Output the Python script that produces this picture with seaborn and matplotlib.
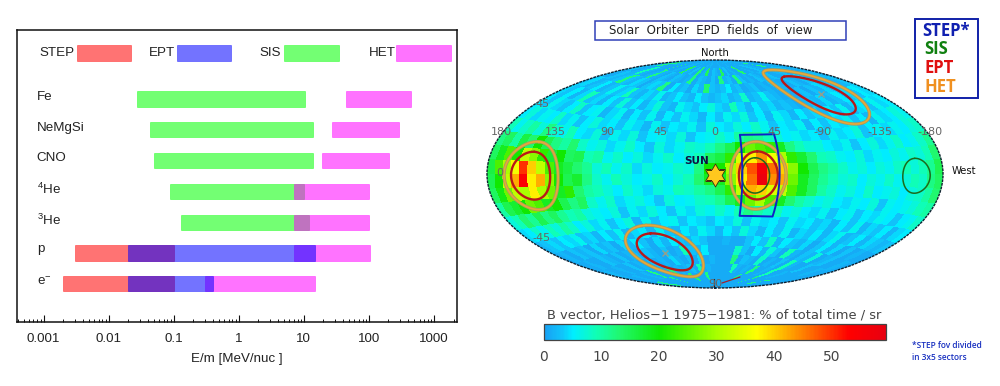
import numpy as np
import pandas as pd
import matplotlib
matplotlib.use("Agg")
import matplotlib.pyplot as plt
from matplotlib.colors import LinearSegmentedColormap
from matplotlib.lines import Line2D
from matplotlib.path import Path
from matplotlib.patches import Rectangle
from matplotlib.ticker import LogLocator, NullFormatter, FixedLocator, FixedFormatter
import seaborn as sns

# ---------- energy ranges (MeV/nuc) ----------
species = ["Fe", "NeMgSi", "CNO", "$^4$He", "$^3$He", "p", "e$^{-}$"]
sis_species = ["Fe", "NeMgSi", "CNO", "$^4$He", "$^3$He"]
sis_low = [0.0272, 0.043, 0.05, 0.0893, 0.129]
sis_high = [10.4, 13.9, 13.9, 10.1, 12.0]
het_species = species
het_low = [44.6, 27.2, 19.0, 7.0, 7.0, 7.0, 0.30]
het_high = [444, 294, 206, 102, 102, 105, 14.9]
step_species = ["p", "e$^{-}$"]
step_low = [0.00303, 0.002]
step_high = [0.1, 0.1]
ept_species = ["p", "e$^{-}$"]
ept_low = [0.02, 0.02]
ept_high = [14.9, 0.4]
energy_ticks = [0.001, 0.01, 0.1, 1, 10, 100, 1000]
energy_tick_labels = ["0.001", "0.01", "0.1", "1", "10", "100", "1000"]

# ---------- sky map: % of total time / sr, rows from north to south, columns lon 176..-176 ----------
a86 = [1,1,1,1,1,2,1,1,1,1,2,1, 1,1,2,1,1,1,1,2,1,2,1,1, 1,1,1,2,1,1,1,1,2,1,1,1, 1,1,2,1,1,1,1,1,2,1,1,1]
a79 = [2,1,12,1,2,1,1,12,1,1,2,1, 1,14,2,1,3,1,13,1,2,14,1,3, 2,1,14,1,3,1,2,1,1,13,1,1, 2,1,1,3,1,2,1,1,12,1,1,2]
a71 = [2,3,1,2,9,2,1,2,12,2,1,3, 2,1,3,2,1,2,12,1,3,2,1,3, 1,12,2,3,1,12,3,1,2,1,3,2, 1,2,3,1,1,2,3,1,2,3,1,2]
a64 = [3,1,3,2,3,12,3,2,4,3,1,3, 4,3,12,1,5,2,3,1,4,2,13,3, 2,3,5,2,3,1,2,3,1,2,1,3, 2,1,1,3,2,1,3,4,2,1,3,2]
a56 = [3,4,2,3,5,2,3,6,3,4,9,3, 2,4,3,6,2,3,5,3,2,5,3,2, 3,4,2,3,8,2,3,6,3,2,1,2, 1,2,3,1,3,2,4,2,3,5,2,3]
a49 = [4,3,5,2,4,9,3,4,2,5,3,7, 3,5,2,4,7,3,2,6,4,3,5,7, 4,3,9,4,2,5,3,4,2,3,2,1, 2,3,2,4,2,3,5,3,4,3,5,4]
a41 = [5,3,6,4,3,5,8,3,5,6,2,4, 6,2,5,3,6,2,5,3,6,4,2,5, 3,6,4,7,3,5,2,6,4,2,5,3, 4,2,5,3,6,2,4,5,3,6,4,5]
a34 = [5,7,4,6,5,8,4,6,3,5,7,4, 5,3,6,4,2,6,3,5,4,6,3,7, 5,4,7,5,8,6,3,5,4,6,2,5, 3,5,4,6,3,5,2,6,4,5,7,6]
a26 = [9,6,8,10,7,12,8,6,9,5,4,7, 3,6,4,7,3,5,6,4,7,3,5,6, 8,6,10,12,11,9,7,5,6,4,5,3, 6,4,5,7,3,5,6,4,6,5,7,8]
a19 = [12,14,10,16,13,20,15,12,10,13,8,6, 7,4,6,8,5,3,7,4,6,8,7,9, 12,15,20,26,24,22,18,12,9,7,7,5, 4,6,3,5,7,4,6,8,5,6,8,11]
a11 = [14,18,24,20,32,28,22,17,20,14,15,9, 10,6,8,5,7,4,6,8,5,7,9,14, 16,22,34,38,44,36,30,22,17,13,9,8, 6,5,7,4,6,5,7,6,8,7,9,13]
a04 = [16,24,30,36,50,40,32,24,18,16,13,11, 7,9,6,8,4,7,5,6,8,7,12,20, 20,30,40,48,56,46,40,28,20,15,12,10, 8,6,7,5,7,6,8,9,7,9,11,15]
b04 = [15,20,32,42,54,38,42,28,20,15,17,12, 8,6,9,7,5,6,8,5,7,9,13,18, 18,28,38,46,58,44,42,26,18,14,11,9, 7,8,5,7,6,8,6,7,9,8,12,14]
b11 = [14,19,26,32,30,38,30,26,18,22,13,10, 9,7,5,8,6,4,7,6,9,8,10,12, 15,22,32,42,40,34,32,24,18,14,10,8, 6,7,5,8,5,6,7,5,7,8,10,13]
b19 = [10,15,17,20,26,24,18,20,15,12,14,8, 6,8,4,6,7,5,3,7,5,6,8,9, 11,15,18,26,30,24,18,13,10,8,6,7, 5,4,6,5,7,3,6,5,6,7,9,10]
b26 = [7,9,13,11,15,12,14,11,9,10,7,6, 5,7,3,6,4,7,5,3,6,4,7,6, 8,6,9,12,10,8,9,6,7,5,4,6, 3,5,6,3,5,4,6,5,3,5,6,8]
b34 = [4,5,8,6,9,7,10,8,5,7,4,6, 3,5,7,2,6,3,5,6,3,5,4,3, 5,4,7,3,6,4,5,3,6,4,5,3, 4,2,5,3,6,2,4,3,5,2,4,5]
b41 = [2,3,4,3,5,4,6,3,4,2,5,3, 6,2,4,5,2,6,3,2,5,3,6,4, 2,5,3,7,4,2,5,3,6,2,4,3, 5,2,4,6,2,3,5,2,4,3,2,3]
b49 = [1,2,1,3,2,3,1,4,2,3,1,4, 2,5,3,1,4,2,5,3,2,4,3,1, 1,2,1,1,3,5,3,8,2,5,3,2, 4,1,3,5,2,4,1,3,1,2,1,1]
b56 = [1,1,2,1,1,3,2,1,3,1,2,3, 1,3,2,1,3,1,2,9,3,2,5,1, 1,1,1,8,3,1,5,2,7,3,1,9, 2,1,3,2,7,1,2,3,1,1,2,1]
b64 = [1,2,1,1,2,1,1,3,1,2,1,1, 3,1,2,1,4,2,1,3,1,4,1,2, 1,1,1,12,1,3,2,1,8,1,2,1, 3,1,9,2,1,1,3,1,1,2,1,1]
b71 = [1,1,1,2,1,1,2,1,12,1,1,2, 1,12,1,2,1,2,3,1,9,1,2,1, 1,1,1,1,9,2,1,2,1,12,1,1, 2,1,9,1,1,2,1,1,1,1,1,1]
b79 = [1,1,12,1,1,1,1,1,1,12,1,1, 1,1,1,1,13,1,1,1,1,12,1,1, 1,1,1,1,1,1,1,1,12,1,1,1, 1,1,12,1,1,1,1,12,1,1,1,1]
b86 = [1,1,1,1,1,1,1,1,1,1,1,1, 1,1,1,1,1,1,1,1,1,1,1,1, 1,1,1,1,1,1,1,1,1,1,1,1, 1,1,1,1,1,1,1,1,1,1,1,1]
sky_rows = [a86, a79, a71, a64, a56, a49, a41, a34, a26, a19, a11, a04,
            b04, b11, b19, b26, b34, b41, b49, b56, b64, b71, b79, b86]

# field-of-view ellipses: (lon, lat, lon radius, lat radius) in degrees
het_fov = [(-31, -1, 20, 24), (140, -1, 23.5, 20), (-122.5, 53, 21.5, 21.5), (58.5, -57, 21, 21)]
ept_fov = [(-31, -1, 14, 17), (140, -1, 17, 14), (-122.5, 53, 15, 15), (58.5, -57, 15, 15)]
sis_fov = [(-29, -1, 10, 12.5), (-155, -1, 12.5, 9.7)]
step_lon = [-19.5, -46.5, -46, -19.5, -19.5]
step_lat = [28, 28, -30, -30, 28]
lon_labels = ["180", "135", "90", "45", "0", "45", "-90", "-135", "-180"]
lon_label_x = [501, 555, 607, 660, 715, 775, 823, 880, 930]
cbar_ticks = [0, 10, 20, 30, 40, 50]

W, H = 1000, 386
sns.set_theme(style="white")
plt.rcParams["font.family"] = ["Liberation Sans", "DejaVu Sans"]
plt.rcParams["mathtext.default"] = "regular"

fig = plt.figure(figsize=(W / 100, H / 100), dpi=100, facecolor="white")

def rect(x0, y0, x1, y1):
    return [x0 / W, 1 - y1 / H, (x1 - x0) / W, (y1 - y0) / H]

def ftext(x, y, s, **kw):
    kw.setdefault("ha", "left")
    kw.setdefault("va", "center")
    return fig.text(x / W, 1 - y / H, s, **kw)

def fbox(x0, y0, x1, y1, **kw):
    fig.add_artist(Rectangle((x0 / W, 1 - y1 / H), (x1 - x0) / W, (y1 - y0) / H,
                             transform=fig.transFigure, **kw))

# ---------- left panel ----------
ax = fig.add_axes(rect(17, 30, 457, 322))
ax.set_xscale("log")
red, blue, green, mag = "#ff0000", "#0000ff", "#00ff00", "#ff00ff"
layers = [
    (sis_species, sis_low, sis_high, green),
    (het_species, het_low, het_high, mag),
    (step_species, step_low, step_high, red),
    (ept_species, ept_low, ept_high, blue),
]
for names, lows, highs, col in layers:
    df = pd.DataFrame({"species": names, "low": lows, "high": highs})
    df["span"] = df["high"] - df["low"]
    sns.barplot(data=df, y="species", x="span", order=species, color=col, saturation=1,
                alpha=0.55, errorbar=None, width=0.49, left=df["low"].values, ax=ax,
                edgecolor=col, linewidth=0.5)
ax.set_xlabel("")
ax.set_ylabel("")
ax.set_xlim(10 ** -3.408, 10 ** 3.354)
ax.set_ylim(7.24, -2.24)
ax.set_yticks([])
ax.xaxis.set_major_locator(FixedLocator(energy_ticks))
ax.xaxis.set_major_formatter(FixedFormatter(energy_tick_labels))
ax.xaxis.set_minor_locator(LogLocator(base=10, subs=range(2, 10), numticks=12))
ax.xaxis.set_minor_formatter(NullFormatter())
ax.tick_params(axis="x", which="major", direction="in", length=5, width=0.8, bottom=True,
               labelsize=9.6, pad=8, color="#111111", labelcolor="#222222")
ax.tick_params(axis="x", which="minor", direction="in", length=2.2, width=0.7, bottom=True,
               color="#111111")
for s in ax.spines.values():
    s.set_visible(True)
    s.set_color("#111111")
    s.set_linewidth(1.1)
label_offsets = {"p": -2, "e$^{-}$": 0}
for i, name in enumerate(species):
    ax.text(0.045, i - 0.07 + label_offsets.get(name, 0) / 30.8, name, transform=ax.get_yaxis_transform(),
            ha="left", va="center", fontsize=9.6, color="#222222")
ftext(237, 359, "E/m [MeV/nuc ]", ha="center", fontsize=9.6, color="#222222")

legend_items = [("STEP", 39, 76.5, red), ("EPT", 149, 176.5, blue),
                ("SIS", 259, 284, green), ("HET", 369, 396, mag)]
for lab, tx, px, col in legend_items:
    ftext(tx, 53, lab, fontsize=9.6, color="#222222")
    fbox(px, 45.5, px + 54.5, 60.5, facecolor=col, alpha=0.55, edgecolor=col, linewidth=0.5)

# ---------- sky map ----------
vmax = 59.4
cmap = LinearSegmentedColormap.from_list("sky", [
    (0 / vmax, "#18a0f4"), (3 / vmax, "#10c4fa"), (5 / vmax, "#00eeff"), (9 / vmax, "#10ffb4"),
    (13 / vmax, "#20f870"), (20 / vmax, "#10e800"), (30 / vmax, "#a8ff00"), (37 / vmax, "#ffff00"),
    (45 / vmax, "#ff8000"), (53 / vmax, "#ff0000"), (1.0, "#e80010")])

mp = fig.add_axes(rect(487, 60, 943, 288), projection="hammer")
sky = np.array(sky_rows, dtype=float)
rep = 3
fine = np.repeat(np.repeat(sky, rep, axis=0), rep, axis=1)
x_edges = np.radians(np.linspace(-180, 180, fine.shape[1] + 1))
y_edges = np.radians(np.linspace(90, -90, fine.shape[0] + 1))
mesh = mp.pcolormesh(x_edges, y_edges, fine, cmap=cmap, vmin=0, vmax=vmax, shading="flat",
                     rasterized=True, antialiased=False)
mp.set_longitude_grid(45)
mp.set_latitude_grid(45)
mp.set_longitude_grid_ends(90)
mp.grid(True, color="#103040", linestyle=":", linewidth=0.9)
mp.set_xticklabels([])
mp.set_yticklabels([])
mp.spines["geo"].set_edgecolor("#102030")
mp.spines["geo"].set_linewidth(1.0)
mp.spines["geo"].set_linestyle(":")

def ellipse(lon0, lat0, a, b):
    # a = radius towards east/west, b = radius towards north/south; t is measured from north
    t = np.linspace(0, 2 * np.pi, 181)
    rr = np.radians(a * b / np.sqrt((b * np.sin(t)) ** 2 + (a * np.cos(t)) ** 2))
    lo, la = np.radians(lon0), np.radians(lat0)
    lat = np.arcsin(np.sin(la) * np.cos(rr) + np.cos(la) * np.sin(rr) * np.cos(t))
    lon = lo + np.arctan2(np.sin(t) * np.sin(rr) * np.cos(la),
                          np.cos(rr) - np.sin(la) * np.sin(lat))
    return -lon, lat

for fov, col, lw in [(het_fov, "#a89a60", 2.4), (het_fov, "#e8a838", 1.2),
                     (ept_fov, "#b81818", 1.7), (sis_fov, "#1c6a1c", 1.1)]:
    for c in fov:
        xs, ys = ellipse(*c)
        mp.plot(xs, ys, color=col, lw=lw, solid_capstyle="round")
for c in ept_fov[2:]:
    mp.plot(-np.radians(c[0]), np.radians(c[1]), marker="x", ms=4, mew=1, color="#90a090", ls="none")
mp.plot(-np.radians(step_lon), np.radians(step_lat), color="#1020c8", lw=1.4)
star = Path.unit_regular_star(6, innerCircle=0.577)
mp.plot([0], [-0.012], marker=star, ms=16.5, mfc="#ffc81e", mec="#403010", mew=0.6, ls="none")

fig.add_artist(Line2D([722 / W, 740 / W], [1 - 283 / H, 1 - 277 / H], color="#a02030", lw=0.9))
fig.add_artist(Line2D([714 / W, 714 / W], [1 - 279 / H, 1 - 287 / H], color="#202020", lw=0.9))

gray = "#666666"
dj = ["DejaVu Sans"]
for s, x in zip(lon_labels, lon_label_x):
    ftext(x, 132, s, ha="center", fontsize=8, color=gray, family=dj)
ftext(542, 104, "45", ha="center", fontsize=8, color=gray, family=dj)
ftext(542, 238, "-45", ha="center", fontsize=8, color=gray, family=dj)
ftext(500, 173, "0", ha="center", fontsize=8, color=gray, family=dj)
ftext(715, 284, "90", ha="center", fontsize=8, color=gray, family=dj)
ftext(715, 53, "North", ha="center", fontsize=7.2, color="#111111", family=dj)
ftext(964, 171, "West", ha="center", fontsize=7.2, color="#111111", family=dj)
ftext(697, 161, "SUN", ha="center", fontsize=7.5, color="#101040", family=dj, fontweight="bold")

fbox(595, 21, 846, 40, facecolor="white", edgecolor="#3040b8", linewidth=1.1)
ftext(711, 30, "Solar  Orbiter  EPD  fields  of  view", ha="center", fontsize=8.5, color="#222222", family=dj)

# colour bar
cax = fig.add_axes(rect(544, 324, 886, 340))
cb = fig.colorbar(mesh, cax=cax, orientation="horizontal")
cb.set_ticks(cbar_ticks)
cb.outline.set_edgecolor("#444444")
cb.outline.set_linewidth(0.9)
cax.tick_params(axis="x", length=1.5, width=0.7, direction="in", labelsize=10, pad=7,
                labelcolor="#444444", color="#222222", bottom=True)
for t in cax.get_xticklabels():
    t.set_family(dj)
ftext(714.5, 315, "B vector, Helios\u22121 1975\u22121981: % of total time / sr", ha="center",
      fontsize=9.4, color="#444444", family=dj)

note_font = ["Open Sans", "DejaVu Sans"]
ftext(912, 346, "*STEP fov divided", fontsize=6, color="#1830c0", family=note_font, fontweight="semibold")
ftext(912, 358, "in 3x5 sectors", fontsize=6, color="#1830c0", family=note_font, fontweight="semibold")

# instrument key
fbox(915, 19, 978, 98, facecolor="white", edgecolor="#1020a8", linewidth=1.4)
for lab, y, x, col in [("STEP*", 31, 922, "#1020b0"), ("SIS", 49, 924, "#108010"),
                       ("EPT", 68, 924, "#e01010"), ("HET", 87, 924, "#f09020")]:
    ftext(x, y, lab, fontsize=12, fontweight="bold", color=col, family=["Open Sans", "DejaVu Sans"])

fig.savefig("out.png", dpi=100, facecolor="white")
